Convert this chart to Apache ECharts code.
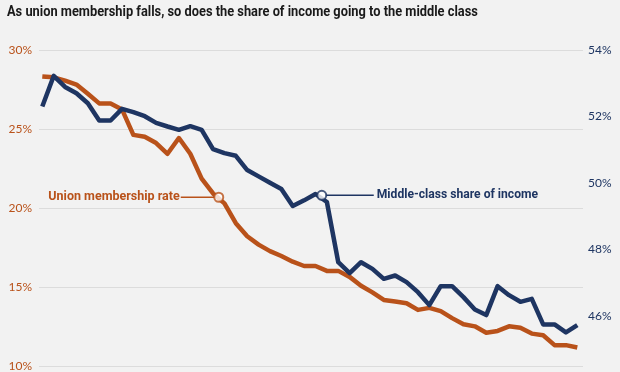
<!DOCTYPE html>
<html><head><meta charset="utf-8">
<script src="https://cdn.jsdelivr.net/npm/echarts@6/dist/echarts.min.js"></script>
<style>html,body{margin:0;padding:0;background:#f2f2f2;} #c{width:620px;height:372px;}</style>
</head><body><div id="c"></div>
<script>
const titleText = 'As union membership falls, so does the share of income going to the middle class';
const years = [1967,1968,1969,1970,1971,1972,1973,1974,1975,1976,1977,1978,1979,1980,1981,1982,
  1983,1984,1985,1986,1987,1988,1989,1990,1991,1992,1993,1994,1995,1996,1997,1998,1999,2000,
  2001,2002,2003,2004,2005,2006,2007,2008,2009,2010,2011,2012,2013,2014];
const unionRate = [28.33,28.27,28.06,27.81,27.23,26.62,26.62,26.24,24.63,24.51,24.11,23.43,24.43,23.43,21.86,20.92,
  20.29,19.04,18.21,17.68,17.27,16.96,16.60,16.33,16.33,16.02,16.02,15.64,15.08,14.66,14.18,14.08,13.97,13.55,
  13.68,13.47,13.03,12.64,12.51,12.11,12.22,12.51,12.42,12.05,11.95,11.32,11.32,11.17];
const middleShare = [52.30,53.22,52.89,52.70,52.40,51.88,51.88,52.23,52.13,52.01,51.81,51.70,51.60,51.71,51.60,51.02,
  50.90,50.82,50.39,50.20,50.01,49.82,49.31,49.48,49.67,49.43,47.62,47.29,47.62,47.42,47.12,47.22,47.02,46.72,
  46.33,46.90,46.90,46.57,46.20,46.03,46.90,46.63,46.43,46.52,45.75,45.75,45.51,45.73];
const leftTicks = [10,15,20,25,30];
const rightTicks = [46,48,50,52,54];
const unionLabel = 'Union membership rate';
const middleLabel = 'Middle-class share of income';
const unionMarker = [1982.5, 20.68];
const middleMarker = [1991.55, 49.63];

const ORANGE = '#b9521a';
const NAVY = '#1e3562';
const chart = echarts.init(document.getElementById('c'), null, {renderer:'canvas'});
chart.setOption({
  backgroundColor:'#f2f2f2',
  animation:false,
  grid:{left:39, right:37, top:50, bottom:2.7},
  xAxis:{type:'value', min:1966.71, max:2014.5, show:false},
  yAxis:[
    {type:'value', min:10, max:30, interval:5, position:'left',
     axisLine:{show:false}, axisTick:{show:false},
     axisLabel:{formatter:'{value}%', color:ORANGE, fontSize:12, fontFamily:'Lato', margin:7},
     splitLine:{lineStyle:{color:'#dcdcdc', width:1}}},
    {type:'value', min:44.5, max:54, position:'right',
     axisLine:{show:false}, axisTick:{show:false},
     axisLabel:{customValues:rightTicks, formatter:'{value}%', color:NAVY, fontSize:12, fontFamily:'Lato', margin:5},
     splitLine:{show:false}}
  ],
  series:[
    {type:'line', name:unionLabel, yAxisIndex:0, data:years.map((y,i)=>[y,unionRate[i]]),
     showSymbol:false, lineStyle:{color:ORANGE, width:4.5, join:'round'}, itemStyle:{color:ORANGE}, z:2},
    {type:'line', name:middleLabel, yAxisIndex:1, data:years.map((y,i)=>[y,middleShare[i]]),
     showSymbol:false, lineStyle:{color:NAVY, width:4.5, join:'round'}, itemStyle:{color:NAVY}, z:3},
    {type:'scatter', yAxisIndex:0, data:[unionMarker], symbolSize:9,
     itemStyle:{color:'#fff', borderColor:ORANGE, borderWidth:2}, z:5},
    {type:'scatter', yAxisIndex:1, data:[middleMarker], symbolSize:9,
     itemStyle:{color:'#fff', borderColor:NAVY, borderWidth:2}, z:5}
  ]
});
const pu = chart.convertToPixel({seriesIndex:2}, unionMarker);
const pm = chart.convertToPixel({seriesIndex:3}, middleMarker);
chart.setOption({
  graphic:[
    {type:'text', x:7, y:12, scaleX:0.855, z:10,
     style:{text:titleText, font:'bold 15px Roboto', fill:'#1a1a1a', verticalAlign:'middle'}},
    {type:'line', z:4, shape:{x1:pu[0]-38, y1:pu[1], x2:pu[0]-4, y2:pu[1]}, style:{stroke:ORANGE, lineWidth:1.5}},
    {type:'text', z:10, x:pu[0]-39, y:pu[1], style:{text:unionLabel, font:'bold 12.5px Roboto', fill:ORANGE, align:'right', verticalAlign:'middle'}},
    {type:'line', z:4, shape:{x1:pm[0]+4, y1:pm[1], x2:pm[0]+52, y2:pm[1]}, style:{stroke:NAVY, lineWidth:1.5}},
    {type:'text', z:10, x:pm[0]+55, y:pm[1], scaleX:0.97, style:{text:middleLabel, font:'bold 12.5px Roboto', fill:NAVY, align:'left', verticalAlign:'middle'}}
  ]
});
</script></body></html>
